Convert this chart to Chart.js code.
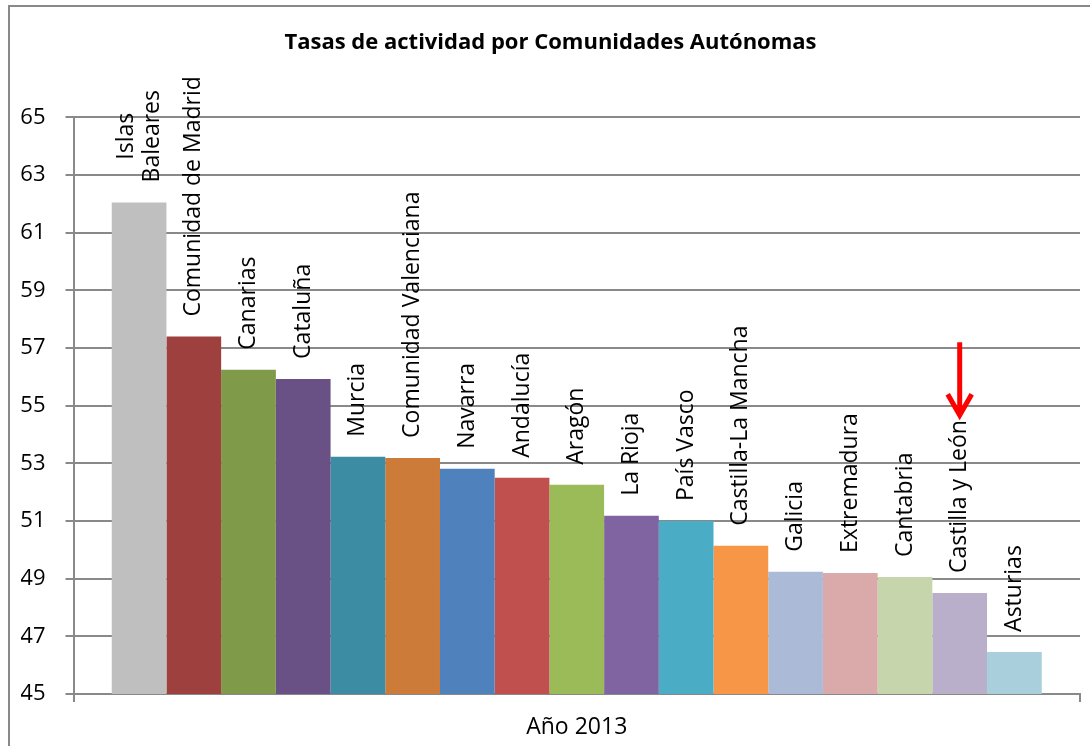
<!DOCTYPE html>
<html lang="es">
<head>
<meta charset="utf-8">
<title>Tasas de actividad por Comunidades Autónomas</title>
<script src="https://cdn.jsdelivr.net/npm/chart.js@4.4.1/dist/chart.umd.min.js"></script>
<style>
    html, body { margin: 0; padding: 0; background: #ffffff; }
    #activityChart { display: block; }
</style>
</head>
<body>
<canvas id="activityChart" width="1090" height="746"></canvas>
<script>
// Single category on the x axis, one series per region
const categories = ["Año 2013"];

const regions = [
    ["Islas", "Baleares"],
    "Comunidad de Madrid",
    "Canarias",
    "Cataluña",
    "Murcia",
    "Comunidad Valenciana",
    "Navarra",
    "Andalucía",
    "Aragón",
    "La Rioja",
    "País Vasco",
    "Castilla-La Mancha",
    "Galicia",
    "Extremadura",
    "Cantabria",
    "Castilla y León",
    "Asturias"
];

const activityRates = [
    62.05, 57.40, 56.25, 55.93, 53.23, 53.19, 52.81, 52.50, 52.26,
    51.18, 51.00, 50.14, 49.24, 49.20, 49.06, 48.50, 46.46
];

const barColors = [
    "#bfbfbf", "#9e413e", "#7f9a48", "#695185", "#3c8da3", "#cc7b38",
    "#4f81bd", "#c0504d", "#9bbb59", "#8064a2", "#4bacc6", "#f79646",
    "#aabad7", "#d9aaa9", "#c6d5ab", "#b9afcb", "#a9cedc"
];

const yTicks = [45, 47, 49, 51, 53, 55, 57, 59, 61, 63, 65];

// red arrow pointing at one region
const highlightRegion = "Castilla y León";
const arrowFrom = 57.2;
const arrowTo = 54.6;

const gridColor = "#898989";

Chart.defaults.font.family = "'Open Sans', sans-serif";
Chart.defaults.color = "#000000";

function regionName(r) {
    return Array.isArray(r) ? r.join(" ") : r;
}

// outer frame of the chart
const framePlugin = {
    id: "frame",
    beforeDraw(chart) {
        const ctx = chart.ctx;
        ctx.save();
        ctx.fillStyle = "#ffffff";
        ctx.fillRect(0, 0, chart.width, chart.height);
        ctx.strokeStyle = gridColor;
        ctx.lineWidth = 2;
        ctx.strokeRect(9, 6, chart.width + 20, chart.height + 20);
        ctx.restore();
    }
};

// vertical region names above each bar
const barLabelPlugin = {
    id: "barLabels",
    afterDatasetsDraw(chart) {
        const ctx = chart.ctx;
        ctx.save();
        ctx.font = "23px 'Open Sans', sans-serif";
        ctx.fillStyle = "#000000";
        ctx.textAlign = "center";
        ctx.textBaseline = "middle";
        chart.data.datasets.forEach((ds, i) => {
            const bar = chart.getDatasetMeta(i).data[0];
            const lines = Array.isArray(regions[i]) ? regions[i] : [regions[i]];
            const maxW = Math.max(...lines.map(l => ctx.measureText(l).width));
            ctx.save();
            ctx.translate(bar.x, bar.y - 20);
            ctx.rotate(-Math.PI / 2);
            lines.forEach((line, j) => {
                const off = (j - (lines.length - 1) / 2) * 26;
                ctx.fillText(line, maxW / 2, off);
            });
            ctx.restore();
        });
        ctx.restore();
    }
};

const arrowPlugin = {
    id: "arrow",
    afterDatasetsDraw(chart) {
        const idx = regions.findIndex(r => regionName(r) === highlightRegion);
        if (idx < 0) return;
        const bar = chart.getDatasetMeta(idx).data[0];
        const y = chart.scales.y;
        const top = y.getPixelForValue(arrowFrom);
        const tip = y.getPixelForValue(arrowTo);
        const ctx = chart.ctx;
        ctx.save();
        ctx.strokeStyle = "#ff0000";
        ctx.lineWidth = 5;
        ctx.beginPath();
        ctx.moveTo(bar.x, top);
        ctx.lineTo(bar.x, tip - 3);
        ctx.stroke();
        ctx.lineJoin = "miter";
        ctx.beginPath();
        ctx.moveTo(bar.x - 12, tip - 23);
        ctx.lineTo(bar.x, tip - 2);
        ctx.lineTo(bar.x + 12, tip - 23);
        ctx.stroke();
        ctx.restore();
    }
};

const ctx = document.getElementById("activityChart").getContext("2d");

new Chart(ctx, {
    type: "bar",
    data: {
        labels: categories,
        datasets: regions.map((r, i) => ({
            label: regionName(r),
            data: [activityRates[i]],
            backgroundColor: barColors[i],
            borderWidth: 0,
            categoryPercentage: 0.924,
            barPercentage: 1.0
        }))
    },
    options: {
        responsive: false,
        animation: false,
        layout: {
            padding: { top: 10, left: 21, right: 10, bottom: 4 }
        },
        plugins: {
            legend: { display: false },
            tooltip: { enabled: false },
            title: {
                display: true,
                text: "Tasas de actividad por Comunidades Autónomas",
                color: "#000000",
                font: { size: 22, weight: "bold" },
                padding: { top: 20, bottom: 61 }
            }
        },
        scales: {
            x: {
                afterFit(scale) {
                    scale.height = 48;
                },
                grid: {
                    display: true,
                    drawOnChartArea: false,
                    offset: true,
                    tickLength: 8,
                    color: gridColor,
                    lineWidth: 2
                },
                border: { color: gridColor, width: 2 },
                ticks: { font: { size: 23 }, color: "#000000", padding: 12 }
            },
            y: {
                min: 45,
                max: 65,
                afterBuildTicks(scale) {
                    scale.ticks = yTicks.map(v => ({ value: v }));
                },
                afterFit(scale) {
                    scale.width = 52.5;
                },
                grid: {
                    color: gridColor,
                    lineWidth: 2,
                    tickLength: 8
                },
                border: { color: gridColor, width: 2 },
                ticks: { font: { size: 22 }, color: "#000000", padding: 20 }
            }
        }
    },
    plugins: [framePlugin, barLabelPlugin, arrowPlugin]
});
</script>
</body>
</html>
